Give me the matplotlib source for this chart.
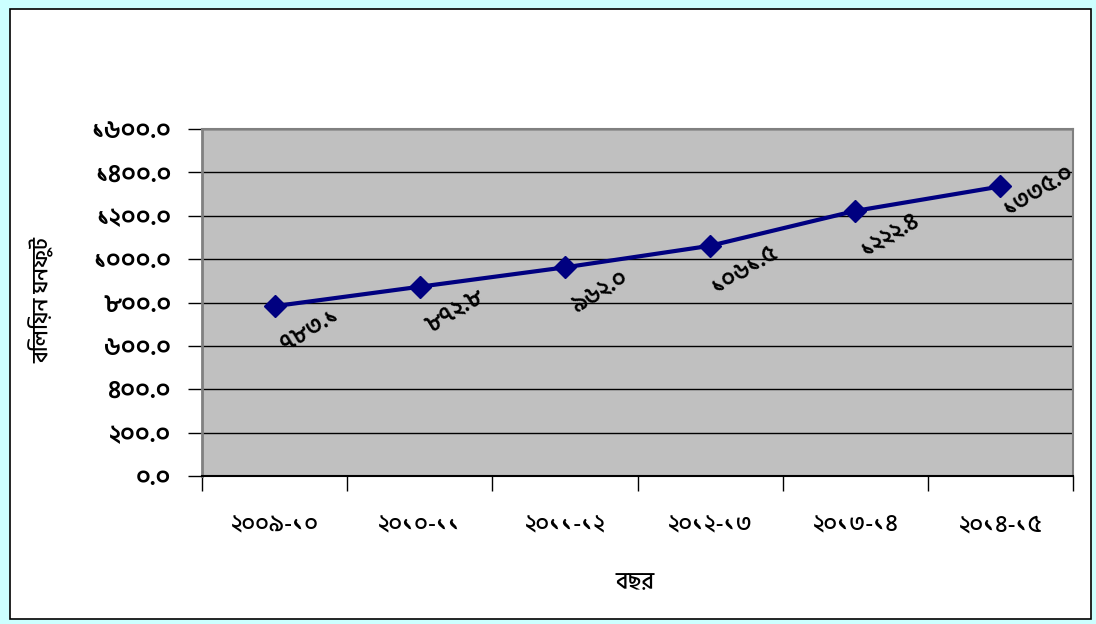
import matplotlib
matplotlib.use("Agg")

import matplotlib.pyplot as plt
import matplotlib.font_manager as fm
import matplotlib.patches as mpatches

# ── Bengali font setup ──────────────────────────────────────────────
_FONT_DIR = "/usr/share/fonts/truetype/google-fonts/"
for _f in ("HindSiliguri-SemiBold.ttf", "HindSiliguri-Medium.ttf"):
    fm.fontManager.addfont(_FONT_DIR + _f)
BN_FONT = fm.FontProperties(fname=_FONT_DIR + "HindSiliguri-SemiBold.ttf")
plt.rcParams["font.family"] = [BN_FONT.get_name(), "DejaVu Sans"]
plt.rcParams["font.weight"] = "semibold"

BN_DIGITS = str.maketrans("0123456789", "০১২৩৪৫৬৭৮৯")


def bn(s):
    return str(s).translate(BN_DIGITS)


# ── Data ────────────────────────────────────────────────────────────
years = ["২০০৯-১০", "২০১০-১১", "২০১১-১২", "২০১২-১৩", "২০১৩-১৪", "২০১৪-১৫"]
volumes = [783.1, 872.8, 962.0, 1061.5, 1222.4, 1335.0]
y_ticks = [0, 200, 400, 600, 800, 1000, 1200, 1400, 1600]

x_title = "বছর"
y_title = "বিলিয়ন ঘনফুট"

# ── Figure & frame ──────────────────────────────────────────────────
fig = plt.figure(figsize=(10.96, 6.24), dpi=100)
fig.patch.set_facecolor("#CCFFFF")
frame = mpatches.Rectangle((10 / 1096, 5 / 624), 1081 / 1096, 610 / 624,
                           transform=fig.transFigure, facecolor="white",
                           edgecolor="black", linewidth=1.2, zorder=-1)
fig.patches.append(frame)

ax = fig.add_axes([202 / 1096, 148 / 624, 871 / 1096, 347 / 624])
ax.set_facecolor("#C0C0C0")

x = list(range(len(years)))
ax.plot(x, volumes, color="#000080", linewidth=3, marker="D",
        markersize=11, markerfacecolor="#000080", markeredgecolor="#000080",
        zorder=4)

# value labels, tilted below-right of each point
for i, v in enumerate(volumes):
    off = (27, -3) if i == len(volumes) - 1 else (25, -17)
    ax.annotate(bn(f"{v:.1f}"), (i, v), xytext=off, textcoords="offset points",
                ha="center", va="center", rotation=31, fontsize=17,
                color="black", zorder=5)

# ── Axes ────────────────────────────────────────────────────────────
ax.set_xlim(-0.5, len(years) - 0.5)
ax.set_ylim(0, 1600)
ax.set_yticks(y_ticks)
ax.set_yticklabels([bn(f"{t:.1f}") for t in y_ticks], fontsize=18)
ax.yaxis.grid(True, color="black", linewidth=1)
ax.set_axisbelow(True)

ax.set_xticks(x)
ax.set_xticklabels(years, fontsize=17, fontweight="medium")
ax.set_xticks([i - 0.5 for i in range(len(years) + 1)], minor=True)
ax.tick_params(axis="x", which="major", length=0, pad=28)
ax.tick_params(axis="x", which="minor", length=11, width=1, color="black")
ax.tick_params(axis="y", length=10, width=1, color="black", pad=12)

for side in ("top", "right", "left"):
    ax.spines[side].set_color("#808080")
    ax.spines[side].set_linewidth(1.5)
ax.spines["left"].set_linewidth(2)
ax.spines["bottom"].set_color("black")
ax.spines["bottom"].set_linewidth(1.5)

fig.text(635 / 1096, 1 - 583 / 624, x_title, fontsize=17, fontweight="medium",
         ha="center", va="center")
fig.text(42 / 1096, 1 - 300 / 624, y_title, fontsize=16, rotation=90,
         fontweight="medium", ha="center", va="center")

fig.savefig("out.png", dpi=100, facecolor=fig.get_facecolor())
